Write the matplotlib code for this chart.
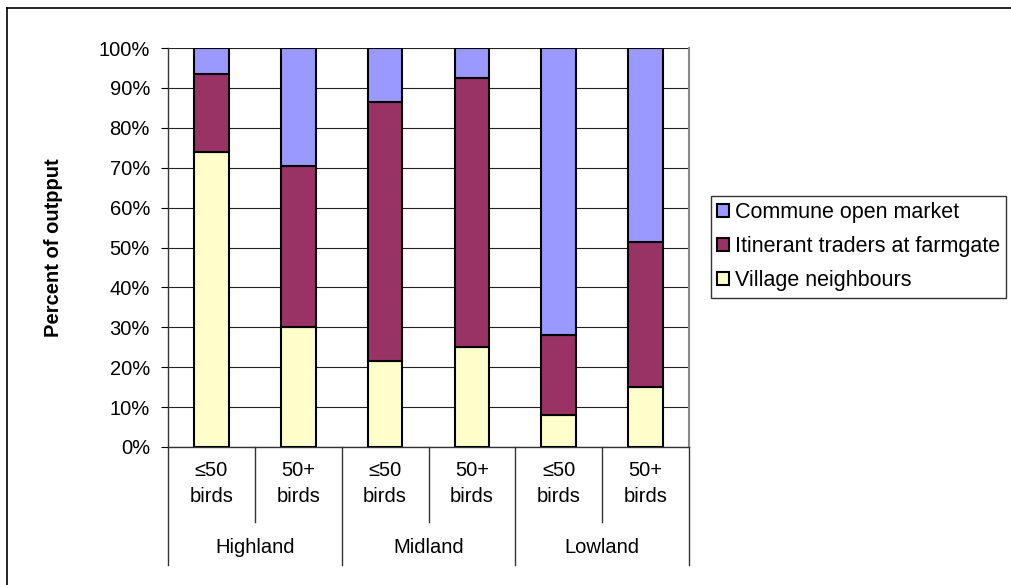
import numpy as np
import matplotlib.pyplot as plt
from matplotlib.lines import Line2D
from matplotlib.patches import Patch

plt.rcParams['font.family'] = ['Liberation Sans', 'DejaVu Sans']

sub_labels = ['≤50\nbirds', '50+\nbirds', '≤50\nbirds', '50+\nbirds', '≤50\nbirds', '50+\nbirds']
groups = ['Highland', 'Midland', 'Lowland']
series = ['Village neighbours', 'Itinerant traders at farmgate', 'Commune open market']
village = [74, 30, 21.5, 25, 8, 15]
itinerant = [19.5, 40.5, 65, 67.5, 20, 36.5]
commune = [6.5, 29.5, 13.5, 7.5, 72, 48.5]
colors = ['#FFFFCC', '#993366', '#9999FF']

fs = 14.5
W, H = 1012, 585
fig = plt.figure(figsize=(W/100, H/100), dpi=100)
ax = fig.add_axes([168/W, (H-447)/H, (689-168)/W, (447-48)/H])

x = np.arange(len(sub_labels))
bottom = np.zeros(len(x))
for vals, col, name in zip([village, itinerant, commune], colors, series):
    ax.bar(x, vals, 0.4, bottom=bottom, color=col, edgecolor='black', linewidth=1.5, label=name, zorder=3)
    bottom += np.array(vals)

ax.set_xlim(-0.5, 5.5)
ax.set_ylim(0, 100)
ax.set_yticks(np.arange(0, 101, 10))
ax.set_yticklabels(['%d%%' % v for v in range(0, 101, 10)], fontsize=fs)
ax.yaxis.grid(True, color='#222222', linewidth=0.8, zorder=0)
ax.tick_params(axis='y', length=5, width=0.8, direction='out', pad=8)
ax.set_xticks([])
for s in ['left', 'bottom']:
    ax.spines[s].set_color('#333333')
    ax.spines[s].set_linewidth(1)
ax.spines['right'].set_color('#888888')
ax.spines['right'].set_linewidth(1.5)
ax.spines['top'].set_visible(False)

ax.set_ylabel('Percent of outpput', fontsize=fs, fontweight='bold')
ax.yaxis.set_label_coords(-0.202, 0.5)

# multi-level category axis
tr = ax.get_xaxis_transform()
for i in range(len(x) + 1):
    xp = i - 0.5
    if i % 2 == 0:
        y1 = -0.296
    else:
        y1 = -0.188
    ax.add_line(Line2D([xp, xp], [0, y1], transform=tr, color='#333333', linewidth=1, clip_on=False))
for i, lab in enumerate(sub_labels):
    top, bot = lab.split('\n')
    ax.text(x[i], -0.058, top, transform=tr, ha='center', va='center', fontsize=fs)
    ax.text(x[i], -0.125, bot, transform=tr, ha='center', va='center', fontsize=fs)
for g, name in enumerate(groups):
    ax.text(2*g + 0.5, -0.252, name, transform=tr, ha='center', va='center', fontsize=fs)

handles = [Patch(facecolor=colors[i], edgecolor='black', linewidth=1.5) for i in [2, 1, 0]]
leg = fig.legend(handles, [series[i] for i in [2, 1, 0]], loc='upper left',
                 bbox_to_anchor=(711/W, (H-196)/H), fontsize=15.5, frameon=True,
                 fancybox=False, handlelength=0.55, handleheight=0.55, handletextpad=0.25,
                 borderpad=0.3, labelspacing=0.6, borderaxespad=0)
leg.get_frame().set_edgecolor('black')
leg.get_frame().set_linewidth(1)

# chart border (left and top)
fig.add_artist(Line2D([7/W, 7/W], [0, (H-8)/H], transform=fig.transFigure, color='black', linewidth=1.2))
fig.add_artist(Line2D([7/W, 1], [(H-8)/H, (H-8)/H], transform=fig.transFigure, color='black', linewidth=1.2))

fig.savefig('out.png', dpi=100)
